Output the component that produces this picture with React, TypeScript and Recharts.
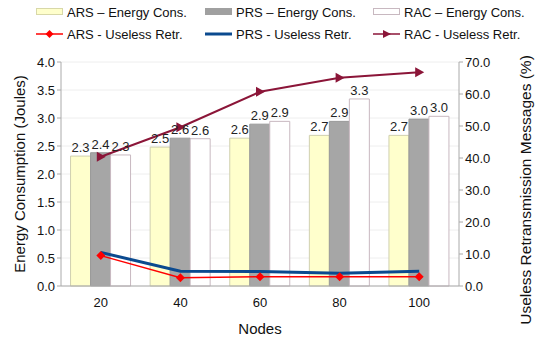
import { ComposedChart, Bar, Line, XAxis, YAxis, CartesianGrid, LabelList } from "recharts";

const nodes = ["20", "40", "60", "80", "100"];
const arsEnergy = [2.32, 2.48, 2.64, 2.69, 2.69];
const prsEnergy = [2.38, 2.64, 2.89, 2.94, 2.98];
const racEnergy = [2.34, 2.63, 2.94, 3.34, 3.03];
const arsUseless = [9.5, 2.6, 2.9, 2.9, 2.9];
const prsUseless = [10.5, 4.6, 4.5, 4.0, 4.6];
const racUseless = [40.4, 49.6, 60.7, 65.1, 66.8];
const leftTicks = [0, 0.5, 1, 1.5, 2, 2.5, 3, 3.5, 4];
const rightTicks = [0, 10, 20, 30, 40, 50, 60, 70];

const data = nodes.map((n, i) => ({
  node: n,
  arsE: arsEnergy[i],
  prsE: prsEnergy[i],
  racE: racEnergy[i],
  arsU: arsUseless[i],
  prsU: prsUseless[i],
  racU: racUseless[i],
}));

const FONT = "'Liberation Sans', Arial, sans-serif";

const Diamond = (props: any) => {
  const { cx, cy } = props;
  if (cx == null || cy == null) return null;
  const r = 4.5;
  return <polygon points={`${cx},${cy - r} ${cx + r},${cy} ${cx},${cy + r} ${cx - r},${cy}`} fill="#ff0000" />;
};

const Triangle = (props: any) => {
  const { cx, cy } = props;
  if (cx == null || cy == null) return null;
  return <polygon points={`${cx - 4},${cy - 5} ${cx + 5},${cy} ${cx - 4},${cy + 5}`} fill="#8b1538" />;
};

const legendItems = [
  { label: "ARS – Energy Cons.", kind: "box", color: "#ffffcc", border: "#d8d8a8", x: 36, y: 12 },
  { label: "PRS – Energy Cons.", kind: "box", color: "#a0a0a0", border: "#a0a0a0", x: 205, y: 12 },
  { label: "RAC – Energy Cons.", kind: "box", color: "#ffffff", border: "#c8b8c0", x: 373, y: 12 },
  { label: "ARS - Useless Retr.", kind: "diamond", color: "#ff0000", x: 36, y: 34 },
  { label: "PRS - Useless Retr.", kind: "line", color: "#0b4a8f", x: 205, y: 34 },
  { label: "RAC - Useless Retr.", kind: "tri", color: "#8b1538", x: 373, y: 34 },
];

function LegendSymbol({ item }: { item: any }) {
  if (item.kind === "box") {
    return (
      <svg width={28} height={10} style={{ display: "block" }}>
        <rect x={0.5} y={1.5} width={26} height={6} fill={item.color} stroke={item.border} />
      </svg>
    );
  }
  return (
    <svg width={28} height={12} style={{ display: "block" }}>
      <line x1={0} y1={6} x2={27} y2={6} stroke={item.color} strokeWidth={item.kind === "line" ? 3 : 1.5} />
      {item.kind === "diamond" && <polygon points="13.5,2 17.5,6 13.5,10 9.5,6" fill={item.color} />}
      {item.kind === "tri" && <polygon points="10,2 18,6 10,10" fill={item.color} />}
    </svg>
  );
}

export default function App() {
  return (
    <div style={{ position: "fixed", left: 0, top: 0, width: 550, height: 338, background: "#fff", fontFamily: FONT }}>
      {legendItems.map((it) => (
        <div
          key={it.label}
          style={{ position: "absolute", left: it.x, top: it.y - 9, height: 18, display: "flex", alignItems: "center", gap: 3, fontSize: 13, color: "#111", whiteSpace: "nowrap" }}
        >
          <LegendSymbol item={it} />
          <span>{it.label}</span>
        </div>
      ))}
      <ComposedChart
        width={550}
        height={338}
        data={data}
        margin={{ top: 62, right: 0, left: 0, bottom: 0 }}
        barCategoryGap="12%"
        barGap={0}
        style={{ fontFamily: FONT }}
      >
        <CartesianGrid stroke="#eeeeee" vertical={false} yAxisId="left" />
        <XAxis
          dataKey="node"
          height={52}
          tick={{ fontSize: 13, fill: "#111", dy: 4 }}
          tickLine={false}
          axisLine={{ stroke: "#aaaaaa" }}
          label={{ value: "Nodes", position: "insideBottom", offset: 4, fontSize: 15, fill: "#111" }}
        />
        <YAxis
          yAxisId="left"
          width={61}
          domain={[0, 4]}
          ticks={leftTicks}
          tickFormatter={(v: number) => v.toFixed(1)}
          tick={{ fontSize: 13, fill: "#111" }}
          tickSize={4}
          tickLine={{ stroke: "#aaaaaa" }}
          axisLine={{ stroke: "#aaaaaa" }}
          label={{ value: "Energy Consumption (Joules)", angle: -90, position: "center", dx: -11, fontSize: 15, fill: "#111" }}
        />
        <YAxis
          yAxisId="right"
          orientation="right"
          width={91}
          domain={[0, 70]}
          ticks={rightTicks}
          tickFormatter={(v: number) => v.toFixed(1)}
          tick={{ fontSize: 13, fill: "#111" }}
          tickSize={4}
          tickLine={{ stroke: "#aaaaaa" }}
          axisLine={{ stroke: "#aaaaaa" }}
          label={{ value: "Useless Retransmission Messages (%)", angle: -90, position: "center", dx: 21, dy: 16, fontSize: 15.5, fill: "#111" }}
        />
        <Bar yAxisId="left" dataKey="arsE" fill="#ffffcc" stroke="#d0d0b0" isAnimationActive={false}>
          <LabelList dataKey="arsE" position="top" offset={4} formatter={(v: any) => Number(v).toFixed(1)} style={{ fontSize: 13, fill: "#222" }} />
        </Bar>
        <Bar yAxisId="left" dataKey="prsE" fill="#a6a6a6" stroke="#9a9a9a" isAnimationActive={false}>
          <LabelList dataKey="prsE" position="top" offset={4} formatter={(v: any) => Number(v).toFixed(1)} style={{ fontSize: 13, fill: "#222" }} />
        </Bar>
        <Bar yAxisId="left" dataKey="racE" fill="#ffffff" stroke="#c8b8c0" isAnimationActive={false}>
          <LabelList dataKey="racE" position="top" offset={4} formatter={(v: any) => Number(v).toFixed(1)} style={{ fontSize: 13, fill: "#222" }} />
        </Bar>
        <Line yAxisId="right" dataKey="prsU" stroke="#0b4a8f" strokeWidth={3} dot={false} isAnimationActive={false} />
        <Line yAxisId="right" dataKey="arsU" stroke="#ff0000" strokeWidth={1.5} dot={<Diamond />} isAnimationActive={false} />
        <Line yAxisId="right" dataKey="racU" stroke="#8b1538" strokeWidth={2} dot={<Triangle />} isAnimationActive={false} />
      </ComposedChart>
    </div>
  );
}
